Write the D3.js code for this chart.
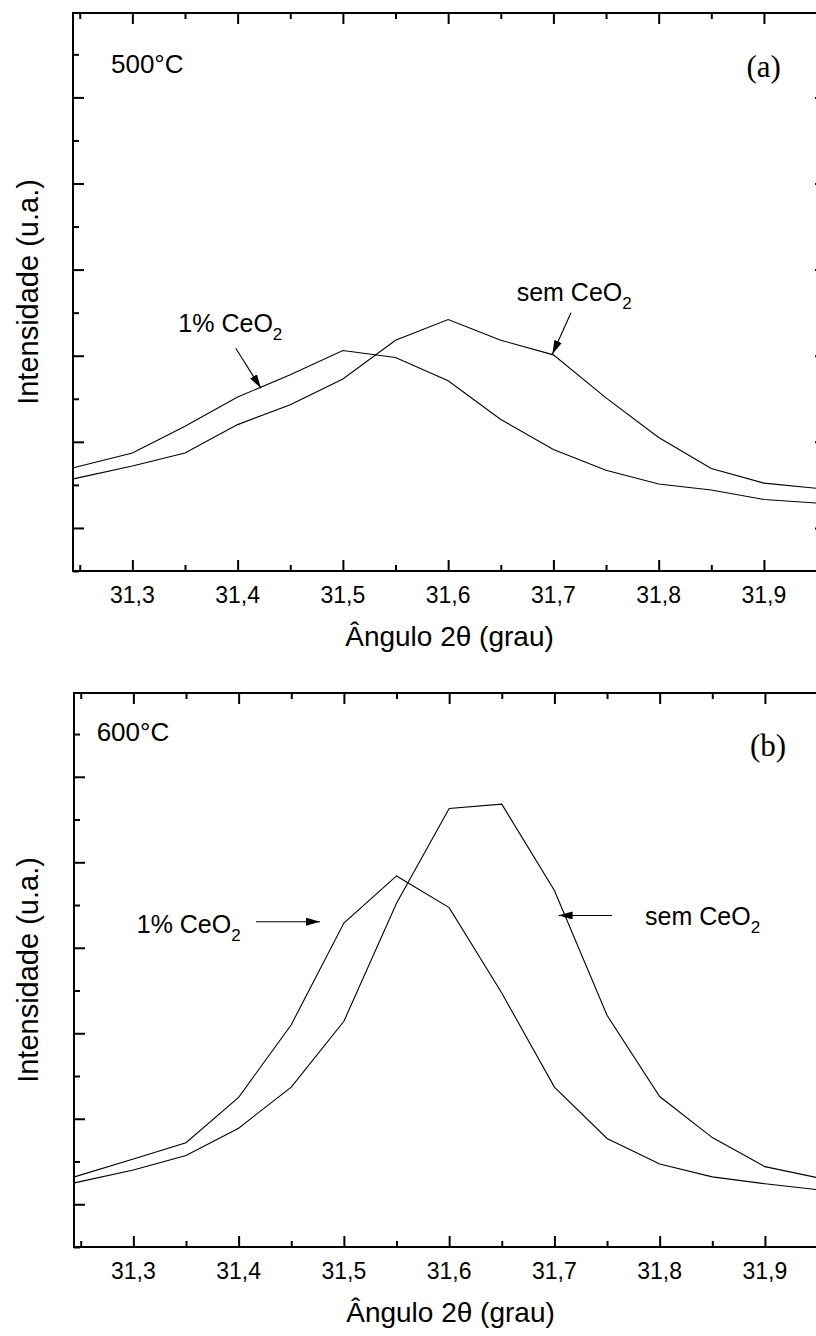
<!DOCTYPE html>
<html><head><meta charset="utf-8">
<script src="https://cdn.jsdelivr.net/npm/d3@7"></script>
<style>
html,body{margin:0;padding:0;background:#fff;}
svg{display:block;font-family:"Liberation Sans",Arial,sans-serif;}
</style></head>
<body>
<svg id="chart" width="816" height="1336"></svg>
<script>
// ---- data ----
const angle   = [31.244, 31.30, 31.35, 31.40, 31.45, 31.50, 31.55, 31.60, 31.65, 31.70, 31.75, 31.80, 31.85, 31.90, 31.95];
const a_ce1   = [170, 187, 218, 252, 278, 306, 298, 271, 226, 191, 167, 151, 144, 133, 129];
const a_sem   = [157, 172, 187, 220, 243, 273, 318, 342, 318, 301, 251, 205, 169, 152, 146];
const b_ce1   = [132, 153, 172, 225, 310, 429, 484, 447, 347, 237, 177, 147, 132, 124, 117];
const b_sem   = [125, 140, 157, 189, 237, 314, 452, 563, 568, 467, 321, 226, 178, 144, 131];
const xTicksMajor = [31.3, 31.4, 31.5, 31.6, 31.7, 31.8, 31.9];
const xTicksMinor = [31.25, 31.35, 31.45, 31.55, 31.65, 31.75, 31.85, 31.95];
const yTicksMajor = [100, 200, 300, 400, 500, 600];
const yTicksMinor = [50, 150, 250, 350, 450, 550, 650];
const xDomain = [31.2436, 31.959];
const yDomain = [50, 698];
const xTitle = "Ângulo 2θ (grau)";
const yTitle = "Intensidade (u.a.)";
const panelTemps = ["500°C", "600°C"];
const panelTags = ["(a)", "(b)"];

const panels = [
  {left:73, top:13, bottom:571, sem:a_sem, ce:a_ce1, temp:panelTemps[0], tag:panelTags[0],
   tempPos:[31.2797, 628.7], tagPos:[31.8998, 623.5],
   notes:[
     {label:"1% CeO", at:[31.3437, 327.9], from:[31.3982, 308.6], to:[31.4222, 262.2]},
     {label:"sem CeO", at:[31.6651, 363.9], from:[31.7167, 350.0], to:[31.6990, 301.7]}
   ]},
  {left:74, top:693, bottom:1247, sem:b_sem, ce:b_ce1, temp:panelTemps[1], tag:panelTags[1],
   tempPos:[31.2651, 642.2], tagPos:[31.9029, 624.3],
   notes:[
     {label:"1% CeO", at:[31.3032, 416.9], from:[31.4165, 430.5], to:[31.4773, 430.5]},
     {label:"sem CeO", at:[31.7861, 426.7], from:[31.7547, 437.8], to:[31.7040, 437.8]}
   ]}
];

const svg = d3.select("#chart");
const pxPerUnit = 1052.6;
const fmt = v => d3.format(".1f")(v).replace(".", ",");

svg.append("defs").append("marker")
  .attr("id","ah").attr("viewBox","0 0 14 8").attr("refX",14).attr("refY",4)
  .attr("markerWidth",14).attr("markerHeight",8).attr("markerUnits","userSpaceOnUse")
  .attr("orient","auto")
  .append("path").attr("d","M0,0 L14,4 L0,8 Z").attr("fill","#000");

panels.forEach((p, i) => {
  const right = p.left + (xDomain[1]-xDomain[0])*pxPerUnit;
  const x = d3.scaleLinear().domain(xDomain).range([p.left, right]);
  const y = d3.scaleLinear().domain(yDomain).range([p.bottom, p.top]);
  const g = svg.append("g");

  const clipId = "clip"+i;
  svg.append("clipPath").attr("id", clipId).append("rect")
    .attr("x", p.left).attr("y", p.top).attr("width", right-p.left).attr("height", p.bottom-p.top);

  const line = d3.line().x((d,j)=>x(angle[j])).y(d=>y(d));
  [p.sem, p.ce].forEach(s => {
    g.append("path").datum(s).attr("d", line).attr("fill","none")
      .attr("stroke","#000").attr("stroke-width",1.1).attr("clip-path",`url(#${clipId})`);
  });

  // axes (inward ticks)
  const ax = (gen, tr, vals, size) => {
    const a = g.append("g").attr("transform", tr)
      .call(gen.tickValues(vals).tickSizeInner(size).tickSizeOuter(0).tickFormat(""));
    a.select(".domain").remove();
    a.selectAll("line").attr("stroke","#000").attr("stroke-width",2);
    return a;
  };
  ax(d3.axisTop(x), `translate(0,${p.bottom})`, xTicksMajor, 11);
  ax(d3.axisTop(x), `translate(0,${p.bottom})`, xTicksMinor, 6);
  ax(d3.axisBottom(x), `translate(0,${p.top})`, xTicksMajor, 11);
  ax(d3.axisBottom(x), `translate(0,${p.top})`, xTicksMinor, 6);
  ax(d3.axisRight(y), `translate(${p.left},0)`, yTicksMajor, 11);
  ax(d3.axisRight(y), `translate(${p.left},0)`, yTicksMinor, 6);
  ax(d3.axisLeft(y), `translate(${right},0)`, yTicksMajor, 11);
  ax(d3.axisLeft(y), `translate(${right},0)`, yTicksMinor, 6);

  g.append("rect").attr("x", p.left).attr("y", p.top)
    .attr("width", right-p.left).attr("height", p.bottom-p.top)
    .attr("fill","none").attr("stroke","#000").attr("stroke-width",2);

  // tick labels
  g.selectAll(".tl").data(xTicksMajor).join("text")
    .attr("x", d=>x(d)).attr("y", p.bottom+32)
    .attr("text-anchor","middle").attr("font-size",23).text(fmt);

  g.append("text").attr("x", (p.left+right)/2).attr("y", p.bottom+75)
    .attr("text-anchor","middle").attr("font-size",28).text(xTitle);

  g.append("text").attr("transform", `translate(38,${(p.top+p.bottom)/2}) rotate(-90)`)
    .attr("text-anchor","middle").attr("font-size",29).text(yTitle);

  g.append("text").attr("x", x(p.tempPos[0])).attr("y", y(p.tempPos[1]))
    .attr("font-size",26).text(p.temp);
  g.append("text").attr("x", x(p.tagPos[0])).attr("y", y(p.tagPos[1]))
    .attr("text-anchor","middle").attr("font-size",31)
    .attr("font-family","'Liberation Serif','Times New Roman',serif").text(p.tag);

  p.notes.forEach(n => {
    const t = g.append("text").attr("x", x(n.at[0])).attr("y", y(n.at[1])).attr("font-size",25);
    t.append("tspan").text(n.label);
    t.append("tspan").attr("dy",8).attr("font-size",17).text("2");
    g.append("line").attr("x1", x(n.from[0])).attr("y1", y(n.from[1]))
      .attr("x2", x(n.to[0])).attr("y2", y(n.to[1]))
      .attr("stroke","#000").attr("stroke-width",1.1).attr("marker-end","url(#ah)");
  });
});
</script>
</body></html>
